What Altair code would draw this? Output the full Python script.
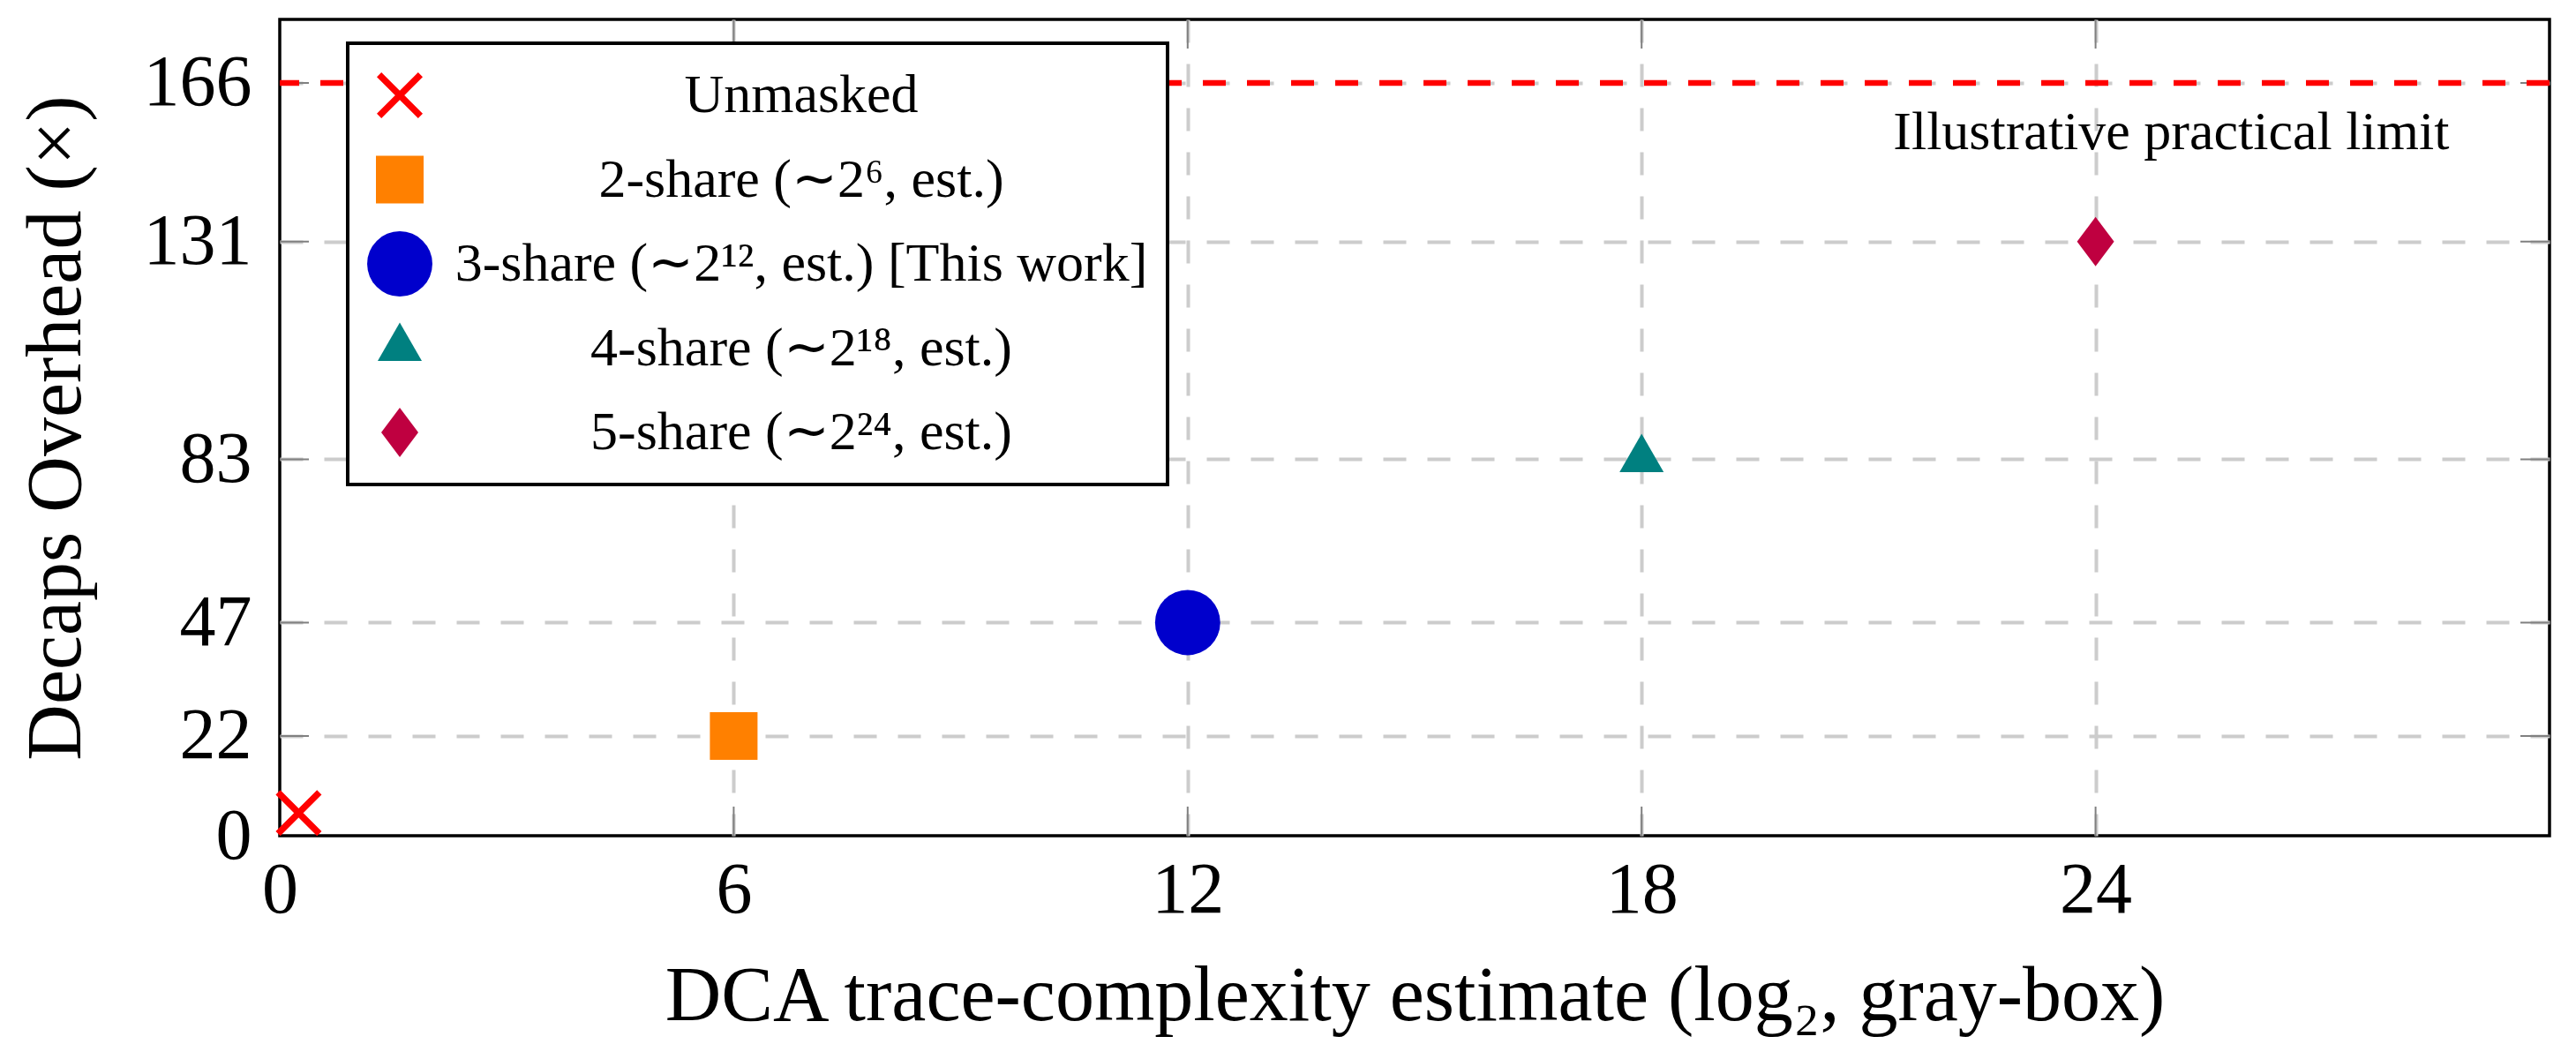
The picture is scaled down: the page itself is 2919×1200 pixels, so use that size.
import altair as alt
import pandas as pd

FONT = "Liberation Serif"

# ---- data ----
series = [
    "Unmasked",
    "2-share (∼2⁶, est.)",
    "3-share (∼2¹², est.) [This work]",
    "4-share (∼2¹⁸, est.)",
    "5-share (∼2²⁴, est.)",
]
trace_log2 = [0.25, 6, 12, 18, 24]
overhead = [5, 22, 47, 83, 131]
marker_colors = ["#FF0000", "#FF8000", "#0000CC", "#008080", "#BF0040"]

X_PATH = "M-1,-0.8L-0.8,-1L1,0.8L0.8,1Z M-1,0.8L0.8,-1L1,-0.8L-0.8,1Z"
TRI_PATH = "M0,-1L0.866,0.5L-0.866,0.5Z"
DIAMOND_PATH = "M0,-1L0.75,0L0,1L-0.75,0Z"
marker_shapes = [X_PATH, "square", "circle", TRI_PATH, DIAMOND_PATH]
# marker area steps (point-scale slots): X=0, square=1, circle=13, triangle=3, diamond=2
size_slot = [0, 1, 13, 3, 2]
SIZE_MIN, SIZE_STEP, N_SLOTS = 2704, 212, 14

x_tick_values = [0, 6, 12, 18, 24]
y_tick_values = [0, 22, 47, 83, 131, 166]
limit_value = [166]
note_text = ["Illustrative practical limit"]
note_x = [25]
note_y = [155]

W, H = 2572, 925
TICK_LEN = 33

# scale domain ordered by size slot, with unused placeholder slots
slot_domain = [None] * N_SLOTS
slot_colors = ["#000000"] * N_SLOTS
slot_shapes = ["circle"] * N_SLOTS
for s, name, c, shp in zip(size_slot, series, marker_colors, marker_shapes):
    slot_domain[s] = name
    slot_colors[s] = c
    slot_shapes[s] = shp
for i in range(N_SLOTS):
    if slot_domain[i] is None:
        slot_domain[i] = "_slot%d" % i

df_points = pd.DataFrame({"series": series, "x": trace_log2, "y": overhead})
df_xt = pd.DataFrame({"x": x_tick_values})
df_yt = pd.DataFrame({"y": y_tick_values})
df_limit = pd.DataFrame({"y": limit_value})
df_note = pd.DataFrame({"x": note_x, "y": note_y, "t": note_text})

x_scale = alt.Scale(domain=[0, 30], nice=False, zero=False)
y_scale = alt.Scale(domain=[0, 180], nice=False)

grid_opacity = {"condition": {"test": "datum.value === 0", "value": 0}, "value": 1}

x_axis = alt.Axis(
    values=x_tick_values, title="DCA trace-complexity estimate (log₂, gray-box)",
    grid=True, ticks=False, domain=False, labelPadding=21, titlePadding=36,
    titleFontSize=88,
    gridOpacity=grid_opacity, labelFlush=False, format="d",
)
y_axis = alt.Axis(
    values=y_tick_values, title="Decaps Overhead (×)",
    grid=True, ticks=False, domain=False, labelPadding=32, titlePadding=54,
    titleFontSize=88,
    gridOpacity=grid_opacity, labelFlush=False, format="d",
)

X = lambda: alt.X("x:Q", scale=x_scale, axis=x_axis)
Y = lambda: alt.Y("y:Q", scale=y_scale, axis=y_axis)

tick_color = "#808080"
ticks_bottom = alt.Chart(df_xt).transform_filter("datum.x > 0").mark_rule(
    color=tick_color, strokeWidth=2
).encode(x=X(), y=alt.value(H), y2=alt.value(H - TICK_LEN))
ticks_top = alt.Chart(df_xt).transform_filter("datum.x > 0").mark_rule(
    color=tick_color, strokeWidth=2
).encode(x=X(), y=alt.value(0), y2=alt.value(TICK_LEN))
ticks_left = alt.Chart(df_yt).transform_filter("datum.y > 0").mark_rule(
    color=tick_color, strokeWidth=2
).encode(y=Y(), x=alt.value(0), x2=alt.value(TICK_LEN))
ticks_right = alt.Chart(df_yt).transform_filter("datum.y > 0").mark_rule(
    color=tick_color, strokeWidth=2
).encode(y=Y(), x=alt.value(W), x2=alt.value(W - TICK_LEN))

limit_rule = alt.Chart(df_limit).mark_rule(
    color="#FF0000", strokeWidth=6.5, strokeDash=[26, 24]
).encode(y=Y())

note = alt.Chart(df_note).mark_text(
    font=FONT, fontSize=62, align="center", baseline="middle", color="black"
).encode(x=X(), y=Y(), text="t:N")

legend = alt.Legend(
    title=None, orient="none", legendX=77, legendY=27, direction="vertical",
    values=series,
    fillColor="white", strokeColor="black", padding=22,
    labelFont=FONT, labelFontSize=62, labelColor="black", labelAlign="center",
    labelOffset=418, labelLimit=3000, clipHeight=74, rowPadding=21.5,
    symbolStrokeWidth=0, symbolOpacity=1,
)

points = alt.Chart(df_points).mark_point(filled=True, opacity=1, strokeWidth=0).encode(
    x=X(),
    y=Y(),
    color=alt.Color("series:N", scale=alt.Scale(domain=slot_domain, range=slot_colors), legend=legend),
    shape=alt.Shape("series:N", scale=alt.Scale(domain=slot_domain, range=slot_shapes), legend=legend),
    size=alt.Size(
        "series:N",
        scale=alt.Scale(type="point", padding=0, domain=slot_domain,
                        range=[SIZE_MIN, SIZE_MIN + SIZE_STEP * (N_SLOTS - 1)]),
        legend=legend,
    ),
)

chart = alt.layer(
    ticks_bottom, ticks_top, ticks_left, ticks_right, limit_rule, note, points
).properties(
    width=W, height=H,
    autosize=alt.AutoSizeParams(type="none"),
    padding={"left": 309, "top": 14, "right": 22, "bottom": 233},
    background="white",
).configure_view(
    stroke="black", strokeWidth=3.5, fill="white"
).configure_axis(
    labelFont=FONT, labelFontSize=82, labelColor="black",
    titleFont=FONT, titleColor="black", titleFontWeight="normal",
    gridColor="#CCCCCC", gridWidth=4, gridDash=[26, 24],
).configure_legend(
    strokeWidth=4
)

chart.save("out.html", embed_options={"renderer": "svg", "actions": False})
